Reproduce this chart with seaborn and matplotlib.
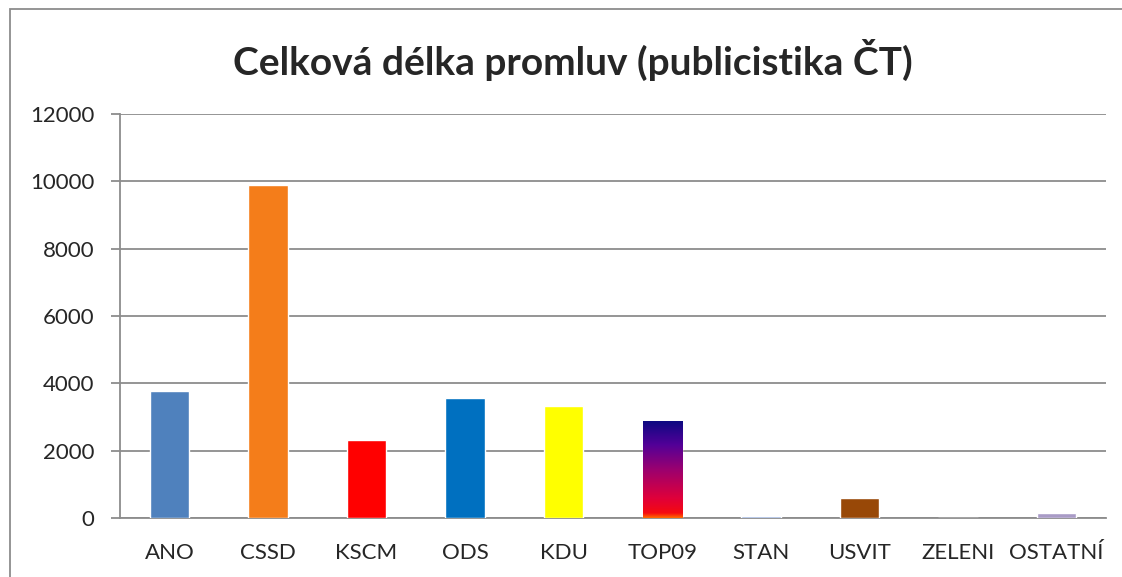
import matplotlib
matplotlib.use("Agg")
import matplotlib.pyplot as plt
import seaborn as sns
import numpy as np
import pandas as pd
from matplotlib.colors import LinearSegmentedColormap
from matplotlib.patches import Rectangle

# data
parties = ["ANO", "CSSD", "KSCM", "ODS", "KDU", "TOP09", "STAN", "USVIT", "ZELENI", "OSTATNÍ"]
durations = [3760, 9880, 2310, 3550, 3340, 2890, 60, 600, 0, 140]
colors = ["#4F81BD", "#F47D1A", "#FF0000", "#0070C0", "#FFFF00", "#FFFFFF",
          "#8EA9DB", "#984807", "#00B050", "#A99BC6"]

sns.set_style("white")
plt.rcParams["font.family"] = ["Lato", "DejaVu Sans"]

df = pd.DataFrame({"party": parties, "duration": durations})

fig = plt.figure(figsize=(11.22, 5.77), dpi=100)
ax = fig.add_axes([0.107, 0.1023, 0.8787, 0.7001])

sns.barplot(data=df, x="party", y="duration", hue="party", palette=colors,
            legend=False, width=0.4, ax=ax, saturation=1)

# TOP09 gradient fill
grad = LinearSegmentedColormap.from_list(
    "top09", [(0.0, "#FF6A00"), (0.05, "#F50A10"), (0.2, "#E0003A"),
              (0.5, "#9A0070"), (0.75, "#520098"), (1.0, "#0A0A80")])
bar = ax.patches[parties.index("TOP09")]
x0, w, h = bar.get_x(), bar.get_width(), bar.get_height()
img = ax.imshow(np.linspace(0, 1, 256).reshape(-1, 1), cmap=grad, origin="lower",
                extent=[x0, x0 + w, 0, h], aspect="auto", zorder=bar.get_zorder() + 0.1)
img.set_clip_path(bar)

ax.set_xlim(-0.5, len(parties) - 0.5)
ax.set_ylim(0, 12000)
ax.set_yticks(range(0, 12001, 2000))
ax.yaxis.grid(True, color="#8C8C8C", linewidth=1.3)
ax.set_axisbelow(True)
ax.set_xlabel("")
ax.set_ylabel("")

for s in ["top", "right"]:
    ax.spines[s].set_visible(False)
for s in ["left", "bottom"]:
    ax.spines[s].set_color("#8C8C8C")
    ax.spines[s].set_linewidth(1.3)
ax.spines["bottom"].set_zorder(0.6)

ax.set_xticks(np.arange(-0.5, len(parties), 1.0), minor=True)
ax.tick_params(axis="x", which="major", length=0, pad=18, labelsize=16)
ax.tick_params(axis="x", which="minor", length=6.5, width=1.3, color="#8C8C8C", direction="out")
ax.tick_params(axis="y", length=6.5, width=1.3, color="#8C8C8C", pad=12, labelsize=16, left=True)

fig.suptitle("Celková délka promluv (publicistika ČT)", fontsize=28, fontweight="bold",
             x=0.511, y=0.933)

# outer chart frame
fig.patches.append(Rectangle((10 / 1122, -0.1), 1.2, 1.1 - 9 / 577, transform=fig.transFigure,
                             fill=False, edgecolor="#8C8C8C", linewidth=1.3))

fig.savefig("out.png", dpi=100)
